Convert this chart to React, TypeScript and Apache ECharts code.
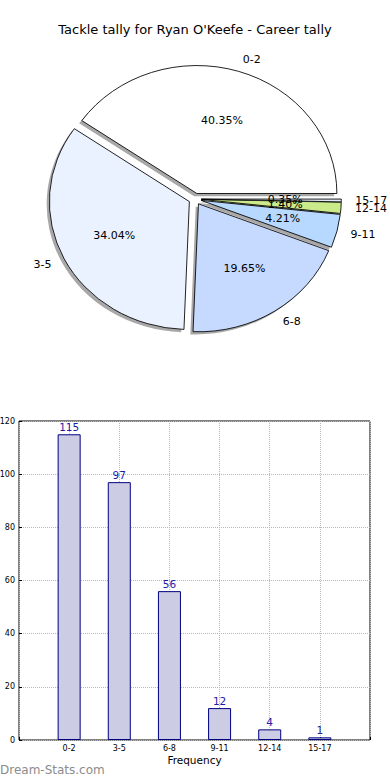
import React, { useEffect, useRef } from "react";
import * as echarts from "echarts";

const titleText = "Tackle tally for Ryan O'Keefe - Career tally";
const categories = ["0-2", "3-5", "6-8", "9-11", "12-14", "15-17"];
const tallies = [115, 97, 56, 12, 4, 1];
const pieColors = ["#ffffff", "#eaf1ff", "#c6d9ff", "#b7d8ff", "#cbea8a", "#dfe9f3"];
const yMax = 120;
const yStep = 20;
const watermark = "Dream-Stats.com";

const FONT = "DejaVu Sans";
const CX = 195;
const CY = 199;
const RX = 140;
const RY = 128;
const EXPLODE = 0.045;
const SH = 2.7;

export default function App() {
  const ref = useRef<HTMLDivElement>(null);
  useEffect(() => {
    if (!ref.current) return;
    const chart = echarts.init(ref.current, null, { renderer: "svg" });
    const total = tallies.reduce((a, b) => a + b, 0);
    const xData = ["", ...categories, ""];
    const barData = [null, ...tallies, null];

    const renderPie = (params: any, api: any) => {
      const i = params.dataIndex;
      const v = api.value(0);
      let before = 0;
      for (let k = 0; k < i; k++) before += tallies[k];
      const a1 = (before / total) * Math.PI * 2;
      const a2 = ((before + v) / total) * Math.PI * 2;
      const mid = (a1 + a2) / 2;
      const ox = EXPLODE * Math.cos(mid) * RX;
      const oy = -EXPLODE * Math.sin(mid) * RX;
      const sy = RY / RX;
      const shape = { cx: ox, cy: oy, r: RX, r0: 0, startAngle: -a2, endAngle: -a1, clockwise: true };
      const pct = ((v / total) * 100).toFixed(2) + "%";
      const px = CX + (EXPLODE + 0.6) * Math.cos(mid) * RX;
      const py = CY - (EXPLODE + 0.6) * Math.sin(mid) * RY;
      const lx = CX + (EXPLODE + 1.1) * Math.cos(mid) * RX;
      const ly = CY - (EXPLODE + 1.1) * Math.sin(mid) * RY;
      return {
        type: "group",
        children: [
          {
            type: "sector",
            x: CX - SH,
            y: CY + SH,
            scaleX: 1,
            scaleY: sy,
            shape,
            style: { fill: "#a8a8a8" },
            z2: 0,
          },
          {
            type: "sector",
            x: CX,
            y: CY,
            scaleX: 1,
            scaleY: sy,
            shape,
            style: { fill: pieColors[i], stroke: "#000", lineWidth: 0.9, strokeNoScale: true },
            z2: 10,
          },
          {
            type: "text",
            x: px,
            y: py,
            style: { text: pct, fill: "#000", fontSize: 11, fontFamily: FONT, align: "center", verticalAlign: "middle" },
            z2: 20,
          },
          {
            type: "text",
            x: lx,
            y: ly,
            style: {
              text: categories[i],
              fill: "#000",
              fontSize: 11,
              fontFamily: FONT,
              align: Math.cos(mid) > 0 ? "left" : "right",
              verticalAlign: "middle",
            },
            z2: 20,
          },
        ],
      };
    };

    chart.setOption({
      animation: false,
      backgroundColor: "#fff",
      textStyle: { fontFamily: FONT },
      title: {
        text: titleText,
        left: "center",
        top: 23,
        padding: 0,
        textStyle: { fontSize: 13, fontWeight: "normal", color: "#000", fontFamily: FONT },
      },
      grid: {
        left: 19,
        right: 20,
        top: 421,
        bottom: 40,
        outerBoundsMode: "none",
        containLabel: false,
        show: true,
        borderColor: "#000",
        borderWidth: 1,
        backgroundColor: "transparent",
      },
      xAxis: {
        type: "category",
        data: xData,
        boundaryGap: false,
        name: "Frequency",
        nameLocation: "middle",
        nameGap: 14,
        nameTextStyle: { fontSize: 10.5, color: "#000", fontFamily: FONT },
        axisLine: { show: false },
        axisTick: { show: true, inside: true, length: 3, lineStyle: { color: "#000" } },
        axisLabel: { fontSize: 8, color: "#000", margin: 4, fontFamily: FONT },
        splitLine: { show: true, lineStyle: { color: "#b8b8b8", type: "dotted", width: 1 } },
      },
      yAxis: {
        type: "value",
        min: 0,
        max: yMax,
        interval: yStep,
        axisLine: { show: false },
        axisTick: { show: true, inside: true, length: 3, lineStyle: { color: "#000" } },
        axisLabel: { fontSize: 8, color: "#000", margin: 4, fontFamily: FONT },
        splitLine: { show: true, lineStyle: { color: "#b8b8b8", type: "dotted", width: 1 } },
      },
      graphic: [
        {
          type: "text",
          left: 0,
          top: 764,
          style: { text: watermark, fill: "#8c8c8c", fontSize: 12, fontFamily: FONT },
        },
      ],
      series: [
        {
          type: "bar",
          data: barData,
          barWidth: 23,
          itemStyle: { color: "#ccccE4", borderColor: "#000080", borderWidth: 1 },
          label: {
            show: true,
            position: "top",
            distance: 2,
            color: "#1c1ca8",
            fontSize: 10.5,
            fontFamily: FONT,
          },
          silent: true,
        },
        {
          type: "custom",
          coordinateSystem: "none",
          data: tallies,
          renderItem: renderPie,
          silent: true,
        },
      ],
    });
    return () => chart.dispose();
  }, []);
  return (
    <div
      ref={ref}
      style={{ position: "fixed", left: 0, top: 0, width: 390, height: 780, background: "#fff" }}
    />
  );
}
